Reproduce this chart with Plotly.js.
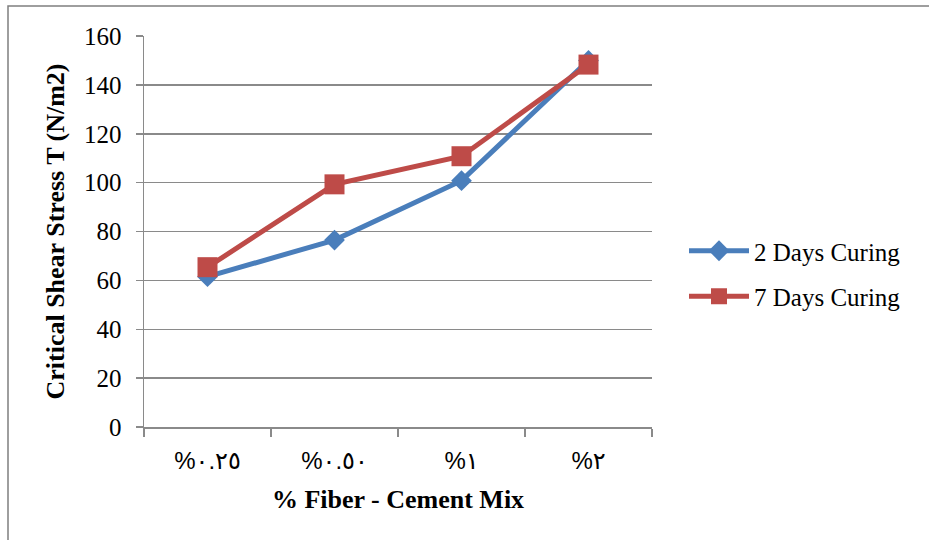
<!DOCTYPE html>
<html>
<head>
<meta charset="utf-8">
<script src="https://cdn.plot.ly/plotly-3.0.1.min.js"></script>
<style>
  html, body { margin: 0; padding: 0; background: #ffffff; }
  #chart { width: 929px; height: 540px; }
</style>
</head>
<body>
<div id="chart"></div>
<script>
// Fiber content of the mix (category labels, Arabic-Indic digits)
const fiberMix = ['%٠.٢٥', '%٠.٥٠', '%١', '%٢'];
// Critical shear stress (N/m2) after each curing period
const twoDaysCuring = [61.5, 76.5, 100.8, 150];
const sevenDaysCuring = [65.4, 99.3, 110.8, 148.3];
const seriesNames = ['2 Days Curing', '7 Days Curing'];
const yTicks = [0, 20, 40, 60, 80, 100, 120, 140, 160];

// plot area in pixels
const W = 929, H = 540;
const L = 144, R = 652, T = 36, B = 427;
const px = v => (v - L) / (R - L);
const py = v => (B - v) / (B - T);

const serif = '"Times New Roman", "Liberation Serif", serif';
const grey = '#8a8a8a';

const traces = [
  {
    x: fiberMix, y: twoDaysCuring, name: seriesNames[0], legendgroup: 'a',
    type: 'scatter', mode: 'lines+markers',
    line: { color: '#4a7ebb', width: 5 },
    marker: { symbol: 'diamond', size: 16, color: '#4a7ebb' }
  },
  {
    x: fiberMix, y: sevenDaysCuring, name: seriesNames[1], legendgroup: 'b',
    type: 'scatter', mode: 'lines+markers',
    line: { color: '#be4b48', width: 5 },
    marker: { symbol: 'square', size: 20, color: '#be4b48' }
  }
];

const layout = {
  width: W, height: H,
  margin: { l: L, r: W - R, t: T, b: H - B, pad: 0 },
  paper_bgcolor: '#ffffff',
  plot_bgcolor: '#ffffff',
  font: { family: serif, color: '#000000' },
  showlegend: true,
  legend: {
    x: px(684), y: py(228), xanchor: 'left', yanchor: 'top',
    font: { family: serif, size: 25, color: '#000000' },
    traceorder: 'grouped', tracegroupgap: 10, itemwidth: 60,
    bgcolor: 'rgba(0,0,0,0)'
  },
  xaxis: {
    type: 'category',
    range: [-0.5, 3.5],
    tickson: 'boundaries',
    ticks: 'outside', ticklen: 8, tickcolor: grey, tickwidth: 1.5,
    showline: true, linecolor: grey, linewidth: 1.5,
    showgrid: false, zeroline: false,
    ticklabelstandoff: 12,
    tickfont: { family: '"Liberation Sans", "DejaVu Sans", sans-serif', size: 24, color: '#000000' },
    title: {
      text: '<b>% Fiber - Cement Mix</b>',
      font: { family: serif, size: 26, color: '#000000' },
      standoff: 16
    }
  },
  yaxis: {
    range: [0, 160],
    tickvals: yTicks,
    ticks: 'outside', ticklen: 7, tickcolor: grey, tickwidth: 1.5,
    showline: true, linecolor: grey, linewidth: 1.5,
    showgrid: true, gridcolor: grey, gridwidth: 1.5,
    zeroline: false,
    ticklabelstandoff: 9,
    tickfont: { family: serif, size: 25, color: '#000000' },
    title: {
      text: '<b>Critical Shear Stress T (N/m2)</b>',
      font: { family: serif, size: 26, color: '#000000' },
      standoff: 12
    }
  },
  shapes: [
    // outer chart frame
    {
      type: 'rect', xref: 'paper', yref: 'paper',
      x0: px(8), x1: px(W + 10), y0: py(H + 10), y1: py(6),
      line: { color: '#7f7f7f', width: 1.5 }, fillcolor: 'rgba(0,0,0,0)',
      layer: 'below'
    }
  ]
};

Plotly.newPlot('chart', traces, layout, { staticPlot: true, displayModeBar: false });
</script>
</body>
</html>
